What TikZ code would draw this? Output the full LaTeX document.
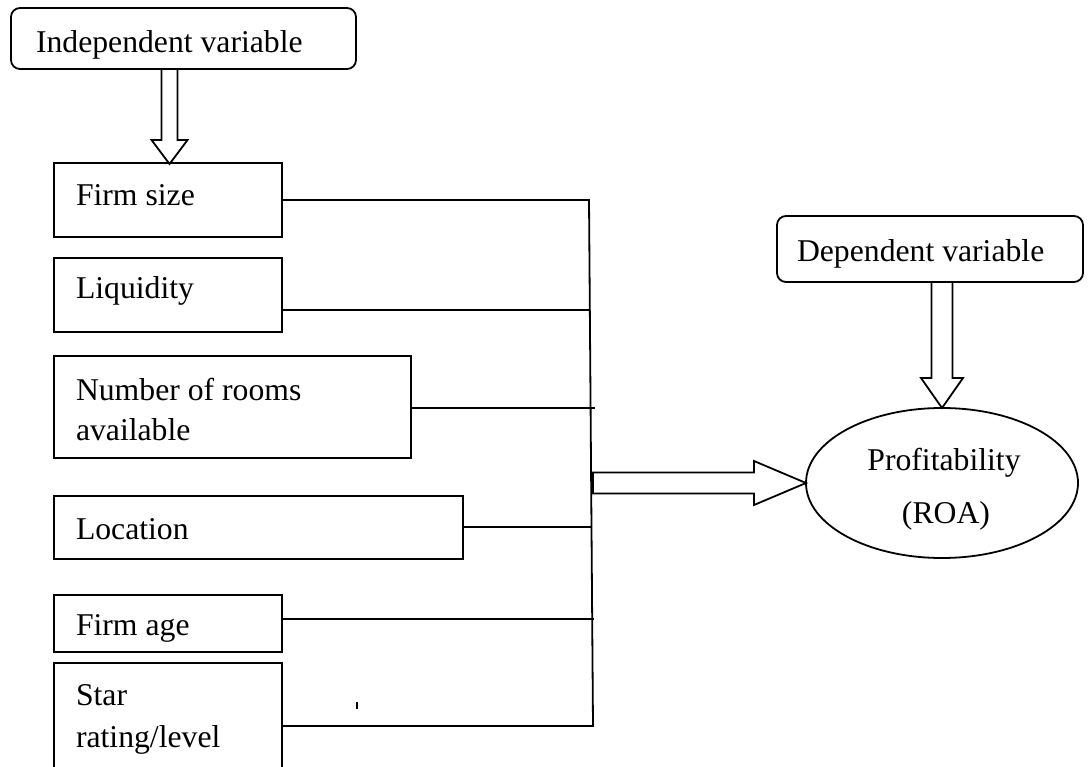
\documentclass[tikz,border=0pt]{standalone}
\usepackage{fontspec}
\setmainfont{Liberation Serif}
\usetikzlibrary{shapes.geometric,calc}
\begin{document}
\begin{tikzpicture}[x=1pt,y=-1pt,
  every node/.style={inner sep=0pt, outer sep=0pt},
  box/.style={draw, line width=1.8pt, rectangle, anchor=north west},
  rbox/.style={draw, line width=1.8pt, rectangle, rounded corners=9pt},
  lbl/.style={font=\fontsize{31.7}{38}\selectfont, anchor=base west},
  clbl/.style={font=\fontsize{31.7}{38}\selectfont, anchor=base},
  conn/.style={line width=1.8pt},
  blockarrow/.style={draw, line width=1.8pt, fill=white, line join=miter}]
\useasboundingbox (0,0) rectangle (1091,767);
\clip (0,0) rectangle (1091,767);

% top boxes
\node[rbox, minimum width=345pt, minimum height=61pt] (ind) at (183.5,38.5) {};
\node[lbl] (tind) at (36,53) {Independent variable};
\node[rbox, minimum width=306pt, minimum height=66pt] (dep) at (930,249) {};
\node[lbl] (tdep) at (797,261) {Dependent variable};

% variable boxes
\node[box, minimum width=228pt, minimum height=74pt] (fs) at (54,163) {};
\node[box, minimum width=228pt, minimum height=74pt] (lq) at (54,258) {};
\node[box, minimum width=357pt, minimum height=102pt] (nr) at (54,356) {};
\node[box, minimum width=409pt, minimum height=63pt] (loc) at (54,496) {};
\node[box, minimum width=228pt, minimum height=57pt] (fa) at (54,595) {};
\node[box, minimum width=228pt, minimum height=130pt] (st) at (54,663) {};

\node[lbl] (tfs) at (76,206) {Firm size};
\node[lbl] (tlq) at (76,298) {Liquidity};
\node[lbl] (tnr1) at (76,400) {Number of rooms};
\node[lbl] (tnr2) at (76,440) {available};
\node[lbl] (tloc) at (76,539) {Location};
\node[lbl] (tfa) at (76,635) {Firm age};
\node[lbl] (tst1) at (76,705) {Star};
\node[lbl] (tst2) at (76,747) {rating/level};

% ellipse
\node[draw, ellipse, line width=1.8pt, minimum width=272pt, minimum height=150pt] (ell) at (942,483) {};
\node[clbl] (tp1) at (944,470) {Profitability};
\node[clbl] (tp2) at (946,523) {(ROA)};

% bus
\coordinate (b1) at (589,200);
\coordinate (b2) at (590,310);
\coordinate (b3) at (595,408);
\coordinate (b4) at (591,527);
\coordinate (b5) at (594,619);
\coordinate (b6) at (593,726);
\draw[conn] (fs.east) -- (b1) -- (b6) -- (st.east |- b6);
\draw[conn] (lq.east |- b2) -- (b2);
\draw[conn] (nr.east |- b3) -- (b3);
\draw[conn] (loc.east |- b4) -- (b4);
\draw[conn] (fa.east |- b5) -- (b5);

% block arrows
\draw[blockarrow] (fs.north) ++(1.5,1) -- ++(-18,-24) -- ++(10,0) -- ++(0,-71) -- ++(16,0) -- ++(0,71) -- ++(10,0) -- cycle;
\draw[blockarrow] (ell.north) -- ++(-21,-30) -- ++(10.5,0) -- ++(0,-96) -- ++(21,0) -- ++(0,96) -- ++(10.5,0) -- cycle;
\draw[blockarrow] (ell.west) -- ++(-52,-22) -- ++(0,11.5) -- ++(-161,0) -- ++(0,21) -- ++(161,0) -- ++(0,11.5) -- cycle;

% stray tick mark
\draw[line width=1.4pt] (357,702) -- (357,709);
\end{tikzpicture}
\end{document}
